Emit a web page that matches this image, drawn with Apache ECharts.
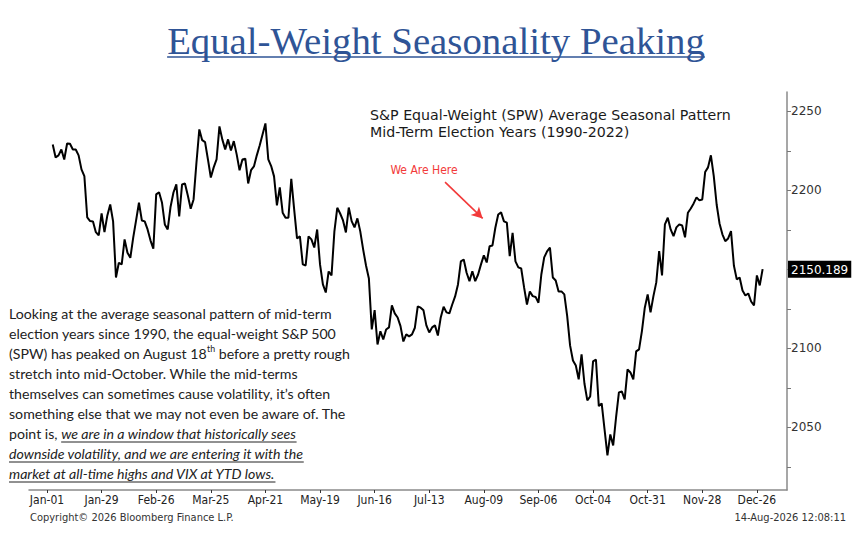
<!DOCTYPE html>
<html><head><meta charset="utf-8">
<script src="https://cdn.jsdelivr.net/npm/echarts@6/dist/echarts.min.js"></script>
<style>html,body{margin:0;padding:0;background:#fff}#c{width:863px;height:538px}</style>
</head><body><div id="c"></div>
<script>
// ---------- data ----------
const tickLabels = ['Jan-01','Jan-29','Feb-26','Mar-25','Apr-21','May-19','Jun-16','Jul-13','Aug-09','Sep-06','Oct-04','Oct-31','Nov-28','Dec-26'];
const daysPerTick = 19;           // trading days between tick labels
const startIndex = 2;             // trading-day index of first value
const seasonal = [
 2229.1,2220.9,2222.2,2225.9,2219.6,2229.7,2229.5,2225.9,2225.9,2222.2,
 2213.3,2209.1,2182.9,2180.6,2180.4,2173.6,2171.5,2185.4,2173.6,2184.2,
 2191.1,2180.4,2144.9,2154.2,2153.2,2169.0,2160.6,2157.4,2170.1,2181.0,
 2192.2,2181.0,2180.4,2175.3,2168.4,2163.1,2197.5,2198.9,2192.4,2178.5,
 2175.3,2189.7,2198.7,2203.8,2183.5,2203.8,2204.4,2196.8,2188.4,2194.3,
 2217.5,2238.6,2231.8,2230.6,2219.6,2208.2,2214.6,2219.6,2240.5,2232.3,
 2226.0,2232.3,2225.3,2231.2,2222.8,2212.7,2219.6,2220.1,2204.4,2212.8,
 2215.2,2222.2,2228.5,2235.4,2242.4,2219.6,2215.4,2208.9,2190.5,2201.9,
 2185.9,2182.7,2182.7,2207.4,2188.0,2169.6,2170.9,2153.2,2152.5,2170.9,
 2169.0,2163.9,2175.3,2153.2,2140.5,2135.4,2148.7,2146.2,2174.1,2189.0,
 2185.4,2181.0,2173.4,2189.2,2180.6,2176.6,2182.3,2174.1,2162.7,2152.5,
 2144.3,2112.0,2124.2,2102.5,2110.9,2105.7,2112.0,2113.3,2127.2,2122.2,
 2119.6,2114.1,2104.4,2108.9,2107.6,2108.9,2113.1,2126.6,2125.8,2124.1,
 2114.6,2110.1,2113.3,2114.6,2108.2,2119.6,2126.4,2122.8,2122.2,2127.8,
 2132.9,2140.5,2155.1,2156.3,2147.9,2142.6,2148.9,2142.6,2146.8,2153.2,
 2158.9,2154.4,2164.7,2165.2,2176.4,2184.8,2186.1,2180.4,2179.6,2158.4,
 2173.2,2155.1,2151.3,2150.6,2138.6,2127.8,2136.1,2133.1,2132.6,2128.9,
 2146.8,2157.6,2161.4,2163.9,2144.9,2143.0,2136.1,2136.1,2134.2,2120.4,
 2101.9,2092.4,2089.2,2080.4,2096.2,2077.8,2067.1,2069.6,2091.8,2093.0,
 2063.5,2065.2,2048.7,2032.3,2045.6,2038.6,2056.3,2072.2,2072.8,2067.7,
 2086.7,2084.8,2080.4,2098.1,2099.4,2111.0,2125.8,2134.2,2122.8,2133.1,
 2141.8,2161.6,2146.2,2178.5,2182.7,2175.3,2171.1,2176.6,2178.5,2177.8,
 2170.3,2185.9,2188.6,2191.8,2195.6,2193.7,2194.3,2211.6,2214.6,2222.2,
 2209.1,2191.1,2179.1,2172.2,2167.9,2169.6,2174.2,2152.5,2143.7,2144.9,
 2136.7,2133.5,2134.8,2129.7,2127.2,2146.2,2139.9,2150.189
];
const lastValue = 2150.189;
const yTicks = [2025,2050,2075,2100,2125,2150,2175,2200,2225,2250];
const yLabels = [2050,2100,2200,2250];   // 2150 is covered by the last-value box
const arrowFrom = [138.5, 2205.3];
const arrowTo = [151.6, 2182.3];

const titleText = 'Equal-Weight Seasonality Peaking';
const chartTitle = ['S&P Equal-Weight (SPW) Average Seasonal Pattern','Mid-Term Election Years (1990-2022)'];
const noteText = 'We Are Here';
const paragraph = [
  [['n','Looking at the average seasonal pattern of mid-term']],
  [['n','election years since 1990, the equal-weight S&P 500']],
  [['n','(SPW) has peaked on August 18'],['s','th'],['n',' before a pretty rough']],
  [['n','stretch into mid-October. While the mid-terms']],
  [['n','themselves can sometimes cause volatility, it\u2019s often']],
  [['n','something else that we may not even be aware of. The']],
  [['n','point is, '],['i','we are in a window that historically sees']],
  [['i','downside volatility, and we are entering it with the']],
  [['i','market at all-time highs and VIX at YTD lows.']]
];
const footerLeft = 'Copyright\u00A9 2026 Bloomberg Finance L.P.';
const footerRight = '14-Aug-2026 12:08:11';

// ---------- helpers ----------
const cv = document.createElement('canvas').getContext('2d');
function measure(txt, font){ cv.font = font; return cv.measureText(txt).width; }
function fitSize(txt, fam, target, style){ const base = 20; return base * target / measure(txt, (style||'') + ' ' + base + 'px ' + fam); }

const titleFam = "'Liberation Serif', serif";
const titleSize = fitSize(titleText, titleFam, 538);
const titleW = measure(titleText, titleSize + 'px ' + titleFam);

const subFam = "'DejaVu Sans', sans-serif";
const subSize = fitSize(chartTitle[0], subFam, 360);

const paraFam = "Lato, 'Open Sans', sans-serif";
const paraSize = fitSize(paragraph[0][0][1], paraFam, 323);
const condFam = "'DejaVu Sans Condensed', 'Liberation Sans Narrow', sans-serif";

const seriesData = seasonal.map((v, k) => [k + startIndex, v]);
const labelIdx = tickLabels.map((_, k) => k * daysPerTick);

// ---------- graphics ----------
const graphics = [];
graphics.push({type:'text', x:436, y:40, style:{text:titleText, font: titleSize.toFixed(1) + 'px ' + titleFam, fill:'#2F5496', textAlign:'center', textVerticalAlign:'middle'}});
graphics.push({type:'line', shape:{x1:436 - titleW/2, y1:57, x2:436 + titleW/2, y2:57}, style:{stroke:'#2F5496', lineWidth:1.4}});
chartTitle.forEach((t, k) => graphics.push({type:'text', x:370, y:115 + k*16.5, style:{text:t, font: subSize.toFixed(1)+'px ' + subFam, fill:'#1a1a1a', textVerticalAlign:'middle'}}));
graphics.push({type:'text', x:424, y:170, style:{text:noteText, font:'12px ' + condFam, fill:'#f23a3a', textAlign:'center', textVerticalAlign:'middle'}});

const px = paraSize.toFixed(2) + 'px ';
const fontOf = s => s === 'i' ? 'italic ' + px + paraFam : (s === 's' ? (paraSize*0.62).toFixed(1) + 'px ' + paraFam : px + paraFam);
paragraph.forEach((segs, k) => {
  const y = 313 + k * 20;
  let x = 9;
  segs.forEach(([s, t]) => {
    const f = fontOf(s);
    const w = measure(t, f);
    graphics.push({type:'text', x:x, y: s === 's' ? y - 5 : y, style:{text:t, font:f, fill:'#222', textVerticalAlign:'middle'}});
    if (s === 'i') graphics.push({type:'line', shape:{x1:x, y1:y + 9, x2:x + w, y2:y + 9}, style:{stroke:'#222', lineWidth:1}});
    x += w;
  });
});
graphics.push({type:'text', x:30, y:517, style:{text:footerLeft, font:'11px ' + condFam, fill:'#333', textVerticalAlign:'middle'}});
graphics.push({type:'text', x:846, y:517, style:{text:footerRight, font:'11px ' + condFam, fill:'#333', textAlign:'right', textVerticalAlign:'middle'}});

// ---------- chart ----------
const chart = echarts.init(document.getElementById('c'), null, {renderer:'svg'});
chart.setOption({
  animation:false,
  backgroundColor:'#fff',
  grid:{left:29, right:76, top:92, bottom:48, containLabel:false, outerBoundsMode:'none'},
  xAxis:{
    type:'value', min:-6.26, max:257.48,
    axisLine:{show:true, onZero:false, lineStyle:{color:'#8a8a8a', width:1.5}},
    splitLine:{show:false},
    axisTick:{show:true, length:3, customValues:labelIdx, lineStyle:{color:'#333'}},
    axisLabel:{customValues:labelIdx, formatter: v => tickLabels[Math.round(v / daysPerTick)] || '', fontSize:12, fontFamily:condFam, color:'#222', margin:4}
  },
  yAxis:{
    type:'value', position:'right', min:2010.4, max:2262.3,
    axisLine:{show:true, onZero:false, lineStyle:{color:'#8a8a8a', width:1.5}},
    splitLine:{show:false},
    axisTick:{show:true, length:4, customValues:yTicks, lineStyle:{color:'#777'}},
    axisLabel:{customValues:yLabels, formatter: v => String(v), fontSize:12, fontFamily:"'DejaVu Sans', sans-serif", color:'#333', margin:4},
    axisPointer:{show:true, status:'show', value:lastValue, triggerTooltip:false, type:'line', lineStyle:{opacity:0},
      label:{show:true, formatter: p => Number(p.value).toFixed(3), backgroundColor:'#000', color:'#fff', fontSize:12, fontFamily:"'DejaVu Sans', sans-serif", padding:[3,3,2,3], borderRadius:0, margin:1}}
  },
  series:[{
    type:'line', data:seriesData, showSymbol:false, symbol:'none',
    lineStyle:{color:'#000', width:2}, z:3,
    markLine:{silent:true, symbol:['none','arrow'], symbolSize:[9,11], label:{show:false},
      lineStyle:{color:'#f23a3a', width:1.6, type:'solid'},
      data:[[{coord:arrowFrom},{coord:arrowTo}]]}
  }],
  graphic:graphics
});
</script></body></html>
